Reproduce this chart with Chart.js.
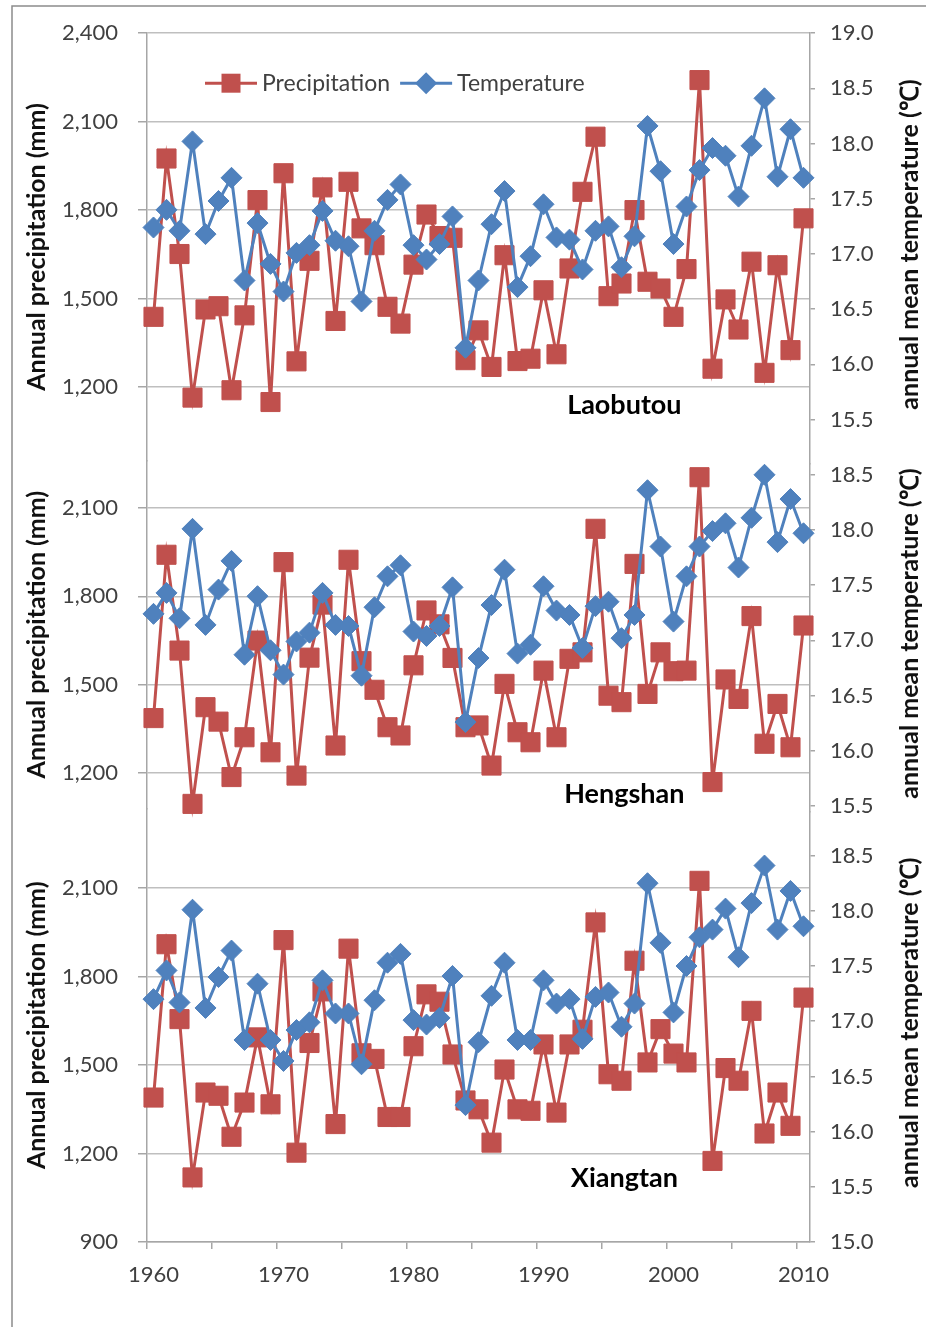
<!DOCTYPE html>
<html>
<head>
<meta charset="utf-8">
<title>Annual precipitation and temperature, 1960-2010</title>
<script src="https://cdn.jsdelivr.net/npm/chart.js@4.4.1/dist/chart.umd.min.js"></script>
<style>
  html, body { margin: 0; padding: 0; background: #fff; }
  canvas { display: block; }
</style>
</head>
<body>
<canvas id="climateChart" width="926" height="1327"></canvas>
<script>
const years = [
  1960, 1961, 1962, 1963, 1964, 1965, 1966, 1967, 1968, 1969,
  1970, 1971, 1972, 1973, 1974, 1975, 1976, 1977, 1978, 1979,
  1980, 1981, 1982, 1983, 1984, 1985, 1986, 1987, 1988, 1989,
  1990, 1991, 1992, 1993, 1994, 1995, 1996, 1997, 1998, 1999,
  2000, 2001, 2002, 2003, 2004, 2005, 2006, 2007, 2008, 2009, 2010,
];

// annual precipitation (mm)
const precipLaobutou = [
  1438, 1975, 1651, 1164, 1463, 1474, 1189, 1443, 1834, 1149,
  1925, 1287, 1628, 1877, 1424, 1896, 1738, 1681, 1472, 1415,
  1615, 1785, 1712, 1706, 1291, 1392, 1268, 1647, 1288, 1296,
  1528, 1311, 1602, 1862, 2049, 1508, 1551, 1800, 1557, 1534,
  1438, 1600, 2241, 1262, 1497, 1395, 1625, 1248, 1613, 1325, 1772,
];
const precipHengshan = [
  1387, 1941, 1616, 1096, 1424, 1375, 1187, 1322, 1650, 1271,
  1916, 1192, 1592, 1772, 1294, 1924, 1580, 1483, 1356, 1328,
  1566, 1752, 1705, 1591, 1356, 1362, 1226, 1503, 1339, 1305,
  1548, 1322, 1588, 1610, 2029, 1463, 1441, 1910, 1469, 1610,
  1546, 1548, 2204, 1170, 1518, 1452, 1733, 1300, 1435, 1288, 1701,
];
const precipXiangtan = [
  1390, 1910, 1656, 1119, 1407, 1396, 1257, 1373, 1594, 1367,
  1924, 1203, 1575, 1750, 1300, 1895, 1540, 1521, 1324, 1324,
  1564, 1740, 1715, 1536, 1380, 1350, 1237, 1485, 1350, 1345,
  1570, 1339, 1570, 1620, 1984, 1469, 1447, 1854, 1509, 1622,
  1539, 1509, 2125, 1175, 1490, 1447, 1684, 1268, 1407, 1294, 1729,
];

// annual mean temperature (deg C)
const tempLaobutou = [
  17.24, 17.40, 17.21, 18.02, 17.18, 17.48, 17.69, 16.76, 17.28, 16.91,
  16.66, 17.01, 17.08, 17.39, 17.12, 17.07, 16.57, 17.21, 17.49, 17.63,
  17.08, 16.95, 17.09, 17.34, 16.15, 16.76, 17.27, 17.57, 16.70, 16.98,
  17.45, 17.15, 17.13, 16.86, 17.21, 17.25, 16.88, 17.16, 18.16, 17.75,
  17.09, 17.43, 17.76, 17.96, 17.89, 17.52, 17.98, 18.41, 17.70, 18.13, 17.69,
];
const tempHengshan = [
  17.24, 17.43, 17.20, 18.01, 17.14, 17.46, 17.72, 16.87, 17.40, 16.91,
  16.69, 16.99, 17.07, 17.43, 17.14, 17.13, 16.68, 17.30, 17.58, 17.68,
  17.08, 17.04, 17.13, 17.48, 16.26, 16.84, 17.32, 17.64, 16.88, 16.96,
  17.49, 17.27, 17.23, 16.93, 17.31, 17.35, 17.02, 17.23, 18.36, 17.85,
  17.17, 17.58, 17.85, 17.99, 18.06, 17.66, 18.11, 18.50, 17.89, 18.28, 17.97,
];
const tempXiangtan = [
  17.20, 17.46, 17.17, 18.01, 17.12, 17.40, 17.64, 16.83, 17.34, 16.83,
  16.64, 16.92, 16.99, 17.37, 17.07, 17.07, 16.61, 17.19, 17.53, 17.61,
  17.01, 16.97, 17.03, 17.41, 16.24, 16.81, 17.23, 17.53, 16.83, 16.83,
  17.37, 17.16, 17.20, 16.84, 17.22, 17.26, 16.95, 17.16, 18.25, 17.71,
  17.08, 17.50, 17.76, 17.83, 18.02, 17.58, 18.07, 18.41, 17.83, 18.18, 17.86,
];

const stations = ['Laobutou', 'Hengshan', 'Xiangtan'];

// tick labels of each panel
const precipTicksTop = [1200, 1500, 1800, 2100, 2400];
const precipTicksMid = [1200, 1500, 1800, 2100];
const precipTicksLow = [900, 1200, 1500, 1800, 2100];
const tempTicksTop = [15.5, 16.0, 16.5, 17.0, 17.5, 18.0, 18.5, 19.0];
const tempTicksMid = [15.5, 16.0, 16.5, 17.0, 17.5, 18.0, 18.5];
const tempTicksLow = [15.0, 15.5, 16.0, 16.5, 17.0, 17.5, 18.0, 18.5];

const RED = '#C0504D';
const BLUE = '#4F81BD';
const GRID = '#BFBFBF';
const AXIS = '#A6A6A6';
const TEXT = '#404040';
const FONT = 'Lato, "Liberation Sans", sans-serif';

Chart.defaults.font.family = FONT;
Chart.defaults.font.size = 22;
Chart.defaults.color = TEXT;

function precipLine(data, axisId) {
  return {
    label: 'Precipitation',
    data,
    yAxisID: axisId,
    borderColor: RED,
    backgroundColor: RED,
    borderWidth: 3,
    pointStyle: 'rect',
    pointRadius: 13.5,
    pointBorderWidth: 1,
    pointBackgroundColor: RED,
    pointBorderColor: RED,
    tension: 0,
    clip: false,
    order: 2,
  };
}

function tempLine(data, axisId) {
  return {
    label: 'Temperature',
    data,
    yAxisID: axisId,
    borderColor: BLUE,
    backgroundColor: BLUE,
    borderWidth: 3,
    pointStyle: 'rectRot',
    pointRadius: 10.5,
    pointBorderWidth: 1,
    pointBackgroundColor: BLUE,
    pointBorderColor: BLUE,
    tension: 0,
    clip: false,
    order: 1,
  };
}

// left axes are stacked top to bottom (higher weight comes first on the left)
function precipAxis(min, max, tickValues, weight) {
  return {
    type: 'linear',
    position: 'left',
    stack: 'precip',
    stackWeight: max - min,
    weight,
    bounds: 'data',
    min,
    max,
    afterBuildTicks: (axis) => { axis.ticks = tickValues.map((value) => ({ value })); },
    afterFit: (axis) => { axis.width = 147; },
    grid: { color: GRID, lineWidth: 1.5, tickLength: 9, tickColor: AXIS },
    border: { color: AXIS, width: 1.5 },
    ticks: { padding: 20, color: TEXT, callback: (v) => v.toLocaleString('en-US') },
    title: {
      display: true,
      text: 'Annual precipitation (mm)',
      color: '#111',
      font: { size: 25, weight: 'bold' },
      padding: { top: 22, bottom: 0 },
    },
  };
}

// right axes are stacked top to bottom (lower weight comes first on the right)
function tempAxis(min, max, tickValues, weight) {
  return {
    type: 'linear',
    position: 'right',
    stack: 'temp',
    stackWeight: max - min,
    weight,
    bounds: 'data',
    min,
    max,
    afterBuildTicks: (axis) => { axis.ticks = tickValues.map((value) => ({ value })); },
    afterFit: (axis) => { axis.width = 116; },
    grid: { drawOnChartArea: false, tickLength: 5, tickColor: AXIS, lineWidth: 1.5 },
    border: { color: AXIS, width: 1.5 },
    ticks: { padding: 15, color: TEXT, callback: (v) => v.toFixed(1) },
  };
}

const decorations = {
  id: 'decorations',
  beforeDraw(chart) {
    const { ctx, width, height } = chart;
    ctx.save();
    ctx.fillStyle = '#fff';
    ctx.fillRect(0, 0, width, height);
    ctx.strokeStyle = '#8C8C8C';
    ctx.lineWidth = 1.5;
    ctx.beginPath();
    ctx.moveTo(12, height);
    ctx.lineTo(12, 6);
    ctx.lineTo(width, 6);
    ctx.stroke();
    ctx.restore();
  },
  afterDraw(chart) {
    const { ctx, chartArea, scales } = chart;
    ctx.save();

    // right axis titles, read from bottom to top
    ctx.fillStyle = '#111';
    ctx.font = `bold 25px ${FONT}`;
    ctx.textAlign = 'center';
    ctx.textBaseline = 'middle';
    ['t1', 't2', 't3'].forEach((id) => {
      const s = scales[id];
      ctx.save();
      ctx.translate(s.right - 16, (s.top + s.bottom) / 2 - 4);
      ctx.rotate(-Math.PI / 2);
      ctx.fillText('annual mean temperature (\u2103)', 0, 0);
      ctx.restore();
    });

    // station names under each panel
    ctx.font = `bold 27px ${FONT}`;
    ctx.fillStyle = '#000';
    const labelX = chartArea.left + 0.72 * (chartArea.right - chartArea.left);
    const levels = [1138, 1129, 1117];
    ['p1', 'p2', 'p3'].forEach((id, i) => {
      ctx.fillText(stations[i], labelX, scales[id].getPixelForValue(levels[i]));
    });

    // legend inside the top panel
    const y = chartArea.top + 50;
    let x = chartArea.left + 58;
    ctx.font = `23px ${FONT}`;
    ctx.textAlign = 'left';
    const entries = [
      { text: 'Precipitation', color: RED, marker: 'square' },
      { text: 'Temperature', color: BLUE, marker: 'diamond' },
    ];
    entries.forEach((e) => {
      ctx.strokeStyle = e.color;
      ctx.fillStyle = e.color;
      ctx.lineWidth = 3;
      ctx.beginPath();
      ctx.moveTo(x, y);
      ctx.lineTo(x + 52, y);
      ctx.stroke();
      const cx = x + 26;
      ctx.beginPath();
      if (e.marker === 'square') {
        ctx.rect(cx - 9.5, y - 9.5, 19, 19);
      } else {
        ctx.moveTo(cx, y - 11);
        ctx.lineTo(cx + 11, y);
        ctx.lineTo(cx, y + 11);
        ctx.lineTo(cx - 11, y);
        ctx.closePath();
      }
      ctx.fill();
      x += 57;
      ctx.fillStyle = TEXT;
      ctx.fillText(e.text, x, y);
      x += ctx.measureText(e.text).width + 10;
    });
    ctx.restore();
  },
};

const climateChart = new Chart(document.getElementById('climateChart'), {
  type: 'line',
  data: {
    labels: years,
    datasets: [
      precipLine(precipLaobutou, 'p1'),
      precipLine(precipHengshan, 'p2'),
      precipLine(precipXiangtan, 'p3'),
      tempLine(tempLaobutou, 't1'),
      tempLine(tempHengshan, 't2'),
      tempLine(tempXiangtan, 't3'),
    ],
  },
  options: {
    responsive: false,
    animation: false,
    devicePixelRatio: 1,
    layout: { padding: { top: 30, left: 0, right: 0, bottom: 0 } },
    scales: {
      x: {
        type: 'category',
        offset: true,
        afterFit: (axis) => { axis.height = 85; },
        grid: {
          offset: true,
          drawOnChartArea: false,
          tickLength: 7,
          lineWidth: 1.5,
          tickColor: (c) => (c.index % 5 === 0 ? AXIS : 'rgba(0,0,0,0)'),
        },
        border: { color: AXIS, width: 1.5 },
        ticks: {
          autoSkip: false,
          maxRotation: 0,
          padding: 13,
          color: TEXT,
          callback: (v, i) => (years[i] % 10 === 0 ? String(years[i]) : ''),
        },
      },
      p1: precipAxis(950, 2400, precipTicksTop, 3),
      p2: precipAxis(1080, 2260, precipTicksMid, 2),
      p3: precipAxis(900, 2370, precipTicksLow, 1),
      t1: tempAxis(15.1, 19.0, tempTicksTop, 1),
      t2: tempAxis(15.45, 18.6, tempTicksMid, 2),
      t3: tempAxis(15.0, 18.9, tempTicksLow, 3),
    },
    plugins: {
      legend: { display: false },
      tooltip: { enabled: false },
    },
  },
  plugins: [decorations],
});
</script>
</body>
</html>
